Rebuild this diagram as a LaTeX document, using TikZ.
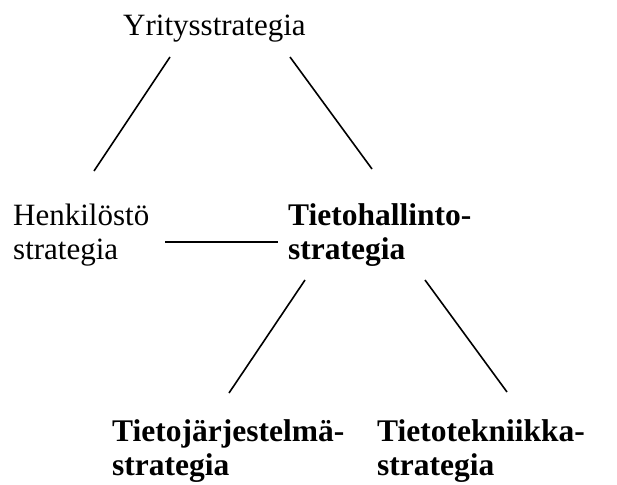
\documentclass[tikz,border=0pt]{standalone}
\usepackage{fontspec}
\setmainfont{Liberation Serif}
\begin{document}
\begin{tikzpicture}[x=1pt,y=-1pt,
  lbl/.style={anchor=base west,inner sep=0pt,align=left,font=\fontsize{31}{34}\selectfont},
  blbl/.style={lbl,font=\fontsize{31.5}{34}\selectfont\bfseries},
  conn/.style={line width=1.6pt}]
\useasboundingbox (0,0) rectangle (617,484);
\node[lbl] (yr) at (123,36) {Yritysstrategia};
\node[lbl] (he) at (13,259) {Henkilöstö\\strategia};
\node[blbl] (th) at (288,259) {Tietohallinto-\\strategia};
\node[blbl] (tj) at (112,475) {Tietojärjestelmä-\\strategia};
\node[blbl] (tt) at (377,475) {Tietotekniikka-\\strategia};
\coordinate (a1) at (170,57); \coordinate (a2) at (94,171);
\coordinate (b1) at (290,57); \coordinate (b2) at (372,169);
\coordinate (c1) at (165,242); \coordinate (c2) at (278,242);
\coordinate (d1) at (305,280); \coordinate (d2) at (229,393);
\coordinate (e1) at (425,280); \coordinate (e2) at (507,392);
\draw[conn] (a1) -- (a2);
\draw[conn] (b1) -- (b2);
\draw[conn] (c1) -- (c2);
\draw[conn] (d1) -- (d2);
\draw[conn] (e1) -- (e2);
\end{tikzpicture}
\end{document}
